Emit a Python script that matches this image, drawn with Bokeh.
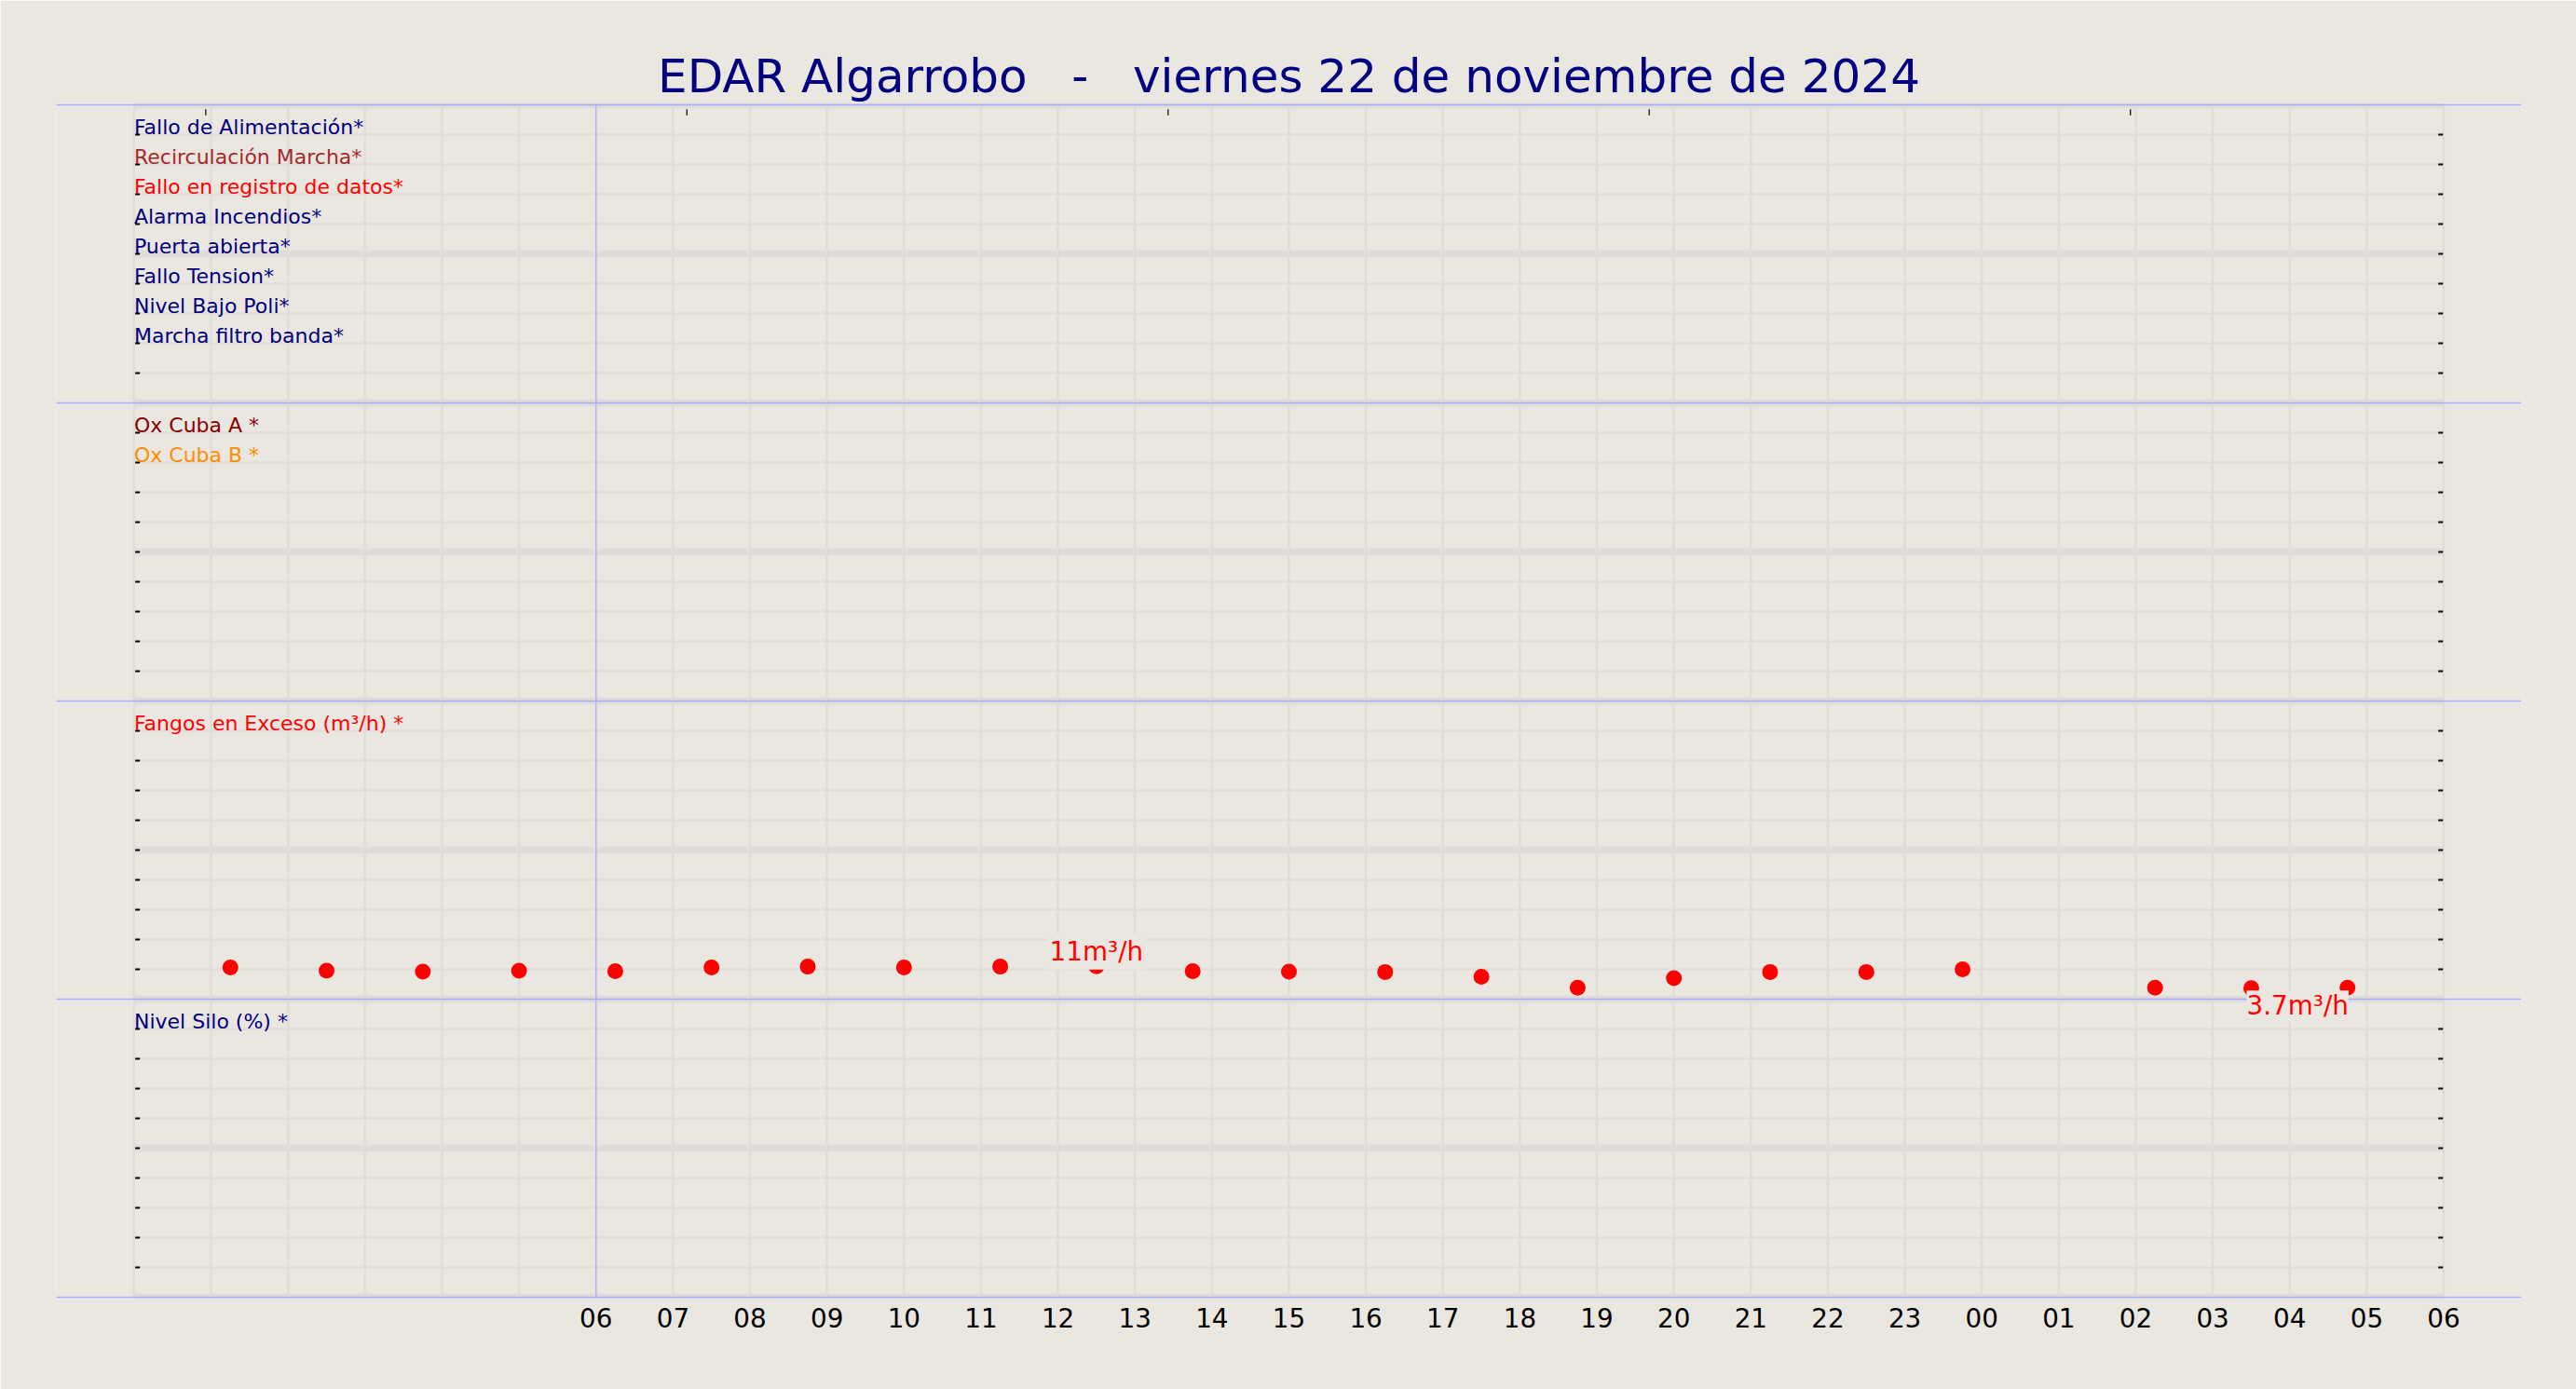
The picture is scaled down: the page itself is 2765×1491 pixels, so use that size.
from bokeh.plotting import figure
from bokeh.models import Range1d, FixedTicker, Span, Label, ColumnDataSource
from bokeh.core.properties import value
from bokeh.embed import file_html
from bokeh.resources import INLINE

# ---------------- data ----------------
NB = "\u00a0"
title_text = "EDAR Algarrobo" + NB * 3 + "-" + NB * 3 + "viernes 22 de noviembre de 2024"

# hours counted from 00:00 of 22/11/2024
fangos_hours = [1.25, 2.5, 3.75, 5.0, 6.25, 7.5, 8.75, 10.0, 11.25, 12.5, 13.75,
                15.0, 16.25, 17.5, 18.75, 20.0, 21.25, 22.5, 23.75, 26.25, 27.5, 28.75]
fangos_values = [10.6, 9.5, 9.2, 9.5, 9.4, 10.6, 10.9, 10.6, 10.9, 11.0, 9.4,
                 9.2, 9.1, 7.5, 3.8, 7.0, 9.1, 9.1, 10.0, 3.8, 3.7, 3.8]

x_ticks = [6, 7, 8, 9, 10, 11, 12, 13, 14, 15, 16, 17, 18, 19, 20, 21, 22, 23,
           24, 25, 26, 27, 28, 29, 30]
tick_labels = ["06", "07", "08", "09", "10", "11", "12", "13", "14", "15", "16",
               "17", "18", "19", "20", "21", "22", "23", "00", "01", "02", "03",
               "04", "05", "06"]
top_ticks = [0.93, 7.18, 13.43, 19.68, 25.93]

panel1_labels = ["Fallo de Alimentación*", "Recirculación Marcha*",
                 "Fallo en registro de datos*", "Alarma Incendios*",
                 "Puerta abierta*", "Fallo Tension*", "Nivel Bajo Poli*",
                 "Marcha filtro banda*"]
panel1_colors = ["navy", "#A52A2A", "#FF0000", "navy", "navy", "navy", "navy", "navy"]
panel2_labels = ["Ox Cuba A *", "Ox Cuba B *"]
panel2_colors = ["#8B0000", "#FF8C00"]
panel3_labels = ["Fangos en Exceso (m³/h) *"]
panel3_colors = ["#FF0000"]
panel4_labels = ["Nivel Silo (%) *"]
panel4_colors = ["navy"]

# ---------------- style ----------------
BG = "#EAE6E0"
GRID = "#E0DCDA"
BLUE = "#AAAAFF"
FONT = "DejaVu Sans"
PANEL_H = 100  # each panel spans 100 units (0..100 %)
N_PANELS = 4
T0, T1 = 0, 30
LABEL_DY = 2.4  # lift of the panel labels above their tick line (data units)

p = figure(width=2765, height=1491,
           x_range=Range1d(-1.01, 31.01), y_range=Range1d(-0.625, 400.625),
           output_backend="svg", toolbar_location=None,
           y_axis_location=None,
           min_border_left=60, min_border_right=59,
           min_border_top=110, min_border_bottom=97)
p.background_fill_color = BG
p.border_fill_color = BG
p.outline_line_color = None
p.grid.visible = False

p.title.text = title_text
p.title.align = "center"
p.title.text_font = FONT
p.title.text_font_size = "50px"
p.title.text_font_style = "normal"
p.title.text_color = "navy"
p.title.standoff = 0

# ---------------- grid ----------------
hours_grid = list(range(T0, T1 + 1))
p.segment(x0=hours_grid, y0=[0] * len(hours_grid), x1=hours_grid,
          y1=[N_PANELS * PANEL_H] * len(hours_grid), line_color=GRID, line_width=2.5)

ys = list(range(0, N_PANELS * PANEL_H + 1, 10))
thin = [y for y in ys if y % 50 != 0]
thick = [y for y in ys if y % 50 == 0]
p.segment(x0=[T0] * len(thin), y0=thin, x1=[T1] * len(thin), y1=thin,
          line_color=GRID, line_width=2.5)
p.segment(x0=[T0] * len(thick), y0=thick, x1=[T1] * len(thick), y1=thick,
          line_color=GRID, line_width=7.5)

# panel separators
for k in range(N_PANELS + 1):
    p.add_layout(Span(location=k * PANEL_H, dimension="width",
                      line_color=BLUE, line_width=1.6))
p.segment(x0=[6], y0=[0], x1=[6], y1=[N_PANELS * PANEL_H],
          line_color=BLUE, line_width=1.2)

# inward y ticks (left and right)
tick_ys = [y for y in ys if y % 100 != 0]
p.segment(x0=[T0 + 0.015] * len(tick_ys), y0=tick_ys, x1=[T0 + 0.075] * len(tick_ys),
          y1=tick_ys, line_color="black", line_width=2)
p.segment(x0=[T1 - 0.07] * len(tick_ys), y0=tick_ys, x1=[T1 - 0.01] * len(tick_ys),
          y1=tick_ys, line_color="black", line_width=2)
# small ticks under the top edge
top = N_PANELS * PANEL_H
p.segment(x0=top_ticks, y0=[top - 1.45] * len(top_ticks), x1=top_ticks,
          y1=[top - 3.55] * len(top_ticks), line_color="#222222", line_width=1.4)

# ---------------- panel labels ----------------
def panel_texts(labels, colors, panel_index):
    top_y = (N_PANELS - panel_index) * PANEL_H
    src = ColumnDataSource(dict(x=[T0] * len(labels),
                                y=[top_y - 10 * (i + 1) + LABEL_DY for i in range(len(labels))],
                                t=labels, c=colors))
    p.text(x="x", y="y", text="t", text_color="c", source=src,
           text_font=value(FONT), text_font_size="22px",
           text_align="left", text_baseline="alphabetic")

panel_texts(panel1_labels, panel1_colors, 0)
panel_texts(panel2_labels, panel2_colors, 1)
panel_texts(panel3_labels, panel3_colors, 2)
panel_texts(panel4_labels, panel4_colors, 3)

# ---------------- data: Fangos en Exceso (panel 3) ----------------
off3 = (N_PANELS - 3) * PANEL_H
p.scatter(x=fangos_hours, y=[v + off3 for v in fangos_values], size=17,
          fill_color="#FF0000", line_color=None)

imax = fangos_values.index(max(fangos_values))
imin = fangos_values.index(min(fangos_values))
p.add_layout(Label(x=fangos_hours[imax], y=fangos_values[imax] + off3,
                   text=f"{fangos_values[imax]:g}m³/h", text_align="center",
                   text_baseline="alphabetic", y_offset=16,
                   text_font=FONT, text_font_size="27.8px", text_color="#FF0000",
                   text_line_height=1.0,
                   background_fill_color=BG, padding=3))
p.add_layout(Label(x=fangos_hours[imin], y=fangos_values[imin] + off3,
                   text=f"{fangos_values[imin]:g}m³/h", text_align="left",
                   text_baseline="alphabetic", y_offset=-19, x_offset=-5,
                   text_font=FONT, text_font_size="27.8px", text_color="#FF0000",
                   text_line_height=1.0,
                   background_fill_color=BG, padding=0))

# ---------------- x axis ----------------
ax = p.xaxis[0]
ax.ticker = FixedTicker(ticks=x_ticks)
ax.major_label_overrides = {t: l for t, l in zip(x_ticks, tick_labels)}
ax.major_label_text_font = FONT
ax.major_label_text_font_size = "27.8px"
ax.major_label_text_color = "black"
ax.axis_line_color = None
ax.major_tick_line_color = None
ax.minor_tick_line_color = None
ax.major_tick_out = 0
ax.major_tick_in = 0
ax.major_label_standoff = 9

open("out.html", "w").write(file_html(p, INLINE))
